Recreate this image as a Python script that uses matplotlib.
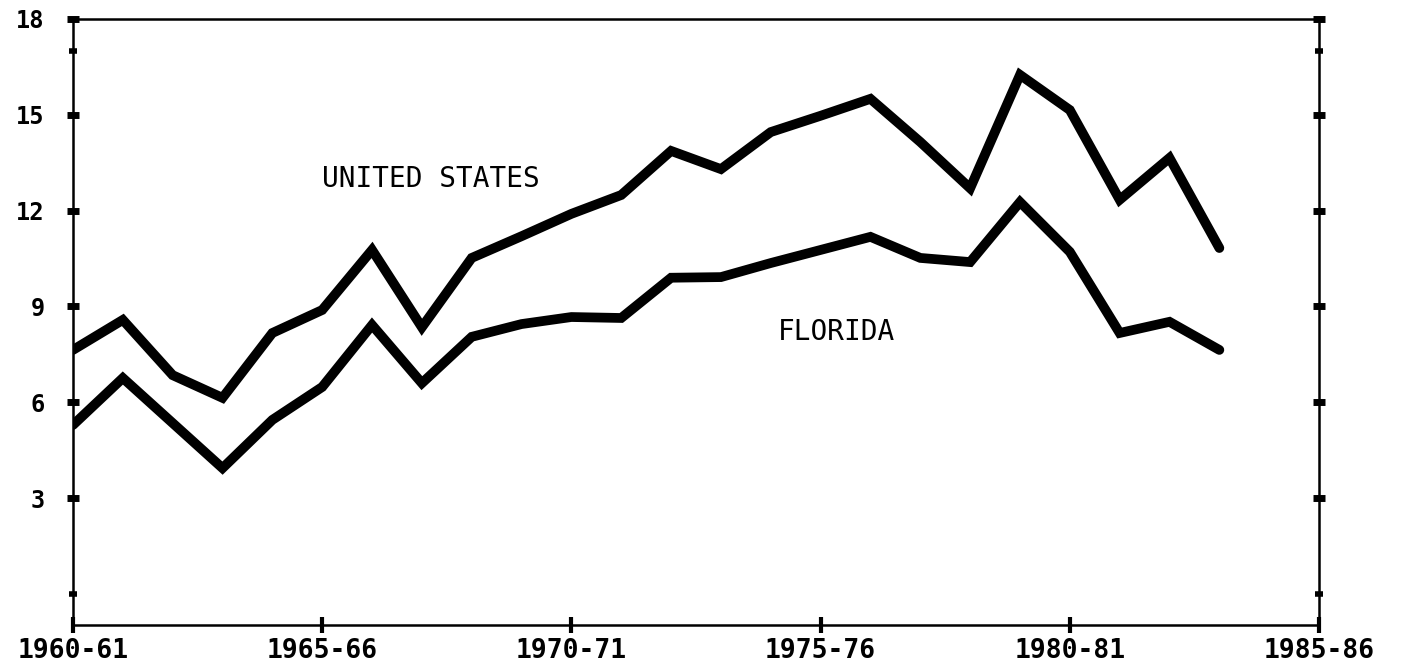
import numpy as np
import matplotlib
matplotlib.use('Agg')
import matplotlib.pyplot as plt

# school years 1960-61 .. 1983-84 (start year)
years = list(range(1960, 1984))
us_values = [7.64, 8.58, 6.85, 6.14, 8.17, 8.89, 10.77, 8.35, 10.52, 11.2,
             11.9, 12.49, 13.87, 13.3, 14.46, 14.97, 15.5, 14.15, 12.7, 16.25,
             15.15, 12.34, 13.65, 10.83]
fl_values = [5.29, 6.76, 5.35, 3.94, 5.45, 6.48, 8.42, 6.6, 8.05, 8.45,
             8.67, 8.64, 9.9, 9.92, 10.36, 10.77, 11.18, 10.52, 10.39, 12.27,
             10.71, 8.17, 8.52, 7.64]

x_ticks = [1960, 1965, 1970, 1975, 1980, 1985]
x_ticklabels = ['1960-61', '1965-66', '1970-71', '1975-76', '1980-81', '1985-86']
y_ticks = [3, 6, 9, 12, 15, 18]

fig = plt.figure(figsize=(14.01, 6.68), dpi=100)
ax = fig.add_axes([0.0521, 0.0644, 0.8894, 0.9072])

ax.plot(years, us_values, color='black', lw=7, solid_joinstyle='miter', solid_capstyle='round')
ax.plot(years, fl_values, color='black', lw=7, solid_joinstyle='miter', solid_capstyle='round')

ax.set_xlim(1960, 1985)
ax.set_ylim(-0.97, 18)

for s in ax.spines.values():
    s.set_linewidth(1.8)

ax.set_xticks(x_ticks)
ax.set_xticklabels(x_ticklabels, fontsize=19, fontweight='bold', family='DejaVu Sans Mono')
ax.set_yticks(y_ticks)
ax.set_yticklabels([str(v) for v in y_ticks], fontsize=17, fontweight='bold', family='DejaVu Sans Mono')

ax.tick_params(axis='y', direction='inout', length=9, width=5, pad=16, right=True)
ax.tick_params(axis='x', direction='inout', length=11, width=3, pad=4)
ax.set_yticks([0, 17], minor=True)
ax.tick_params(axis='y', which='minor', direction='inout', length=6, width=4, right=True)

ax.text(1965, 13.0, 'UNITED STATES', fontsize=20, family='DejaVu Sans Mono', va='center', ha='left')
ax.text(1974.15, 8.2, 'FLORIDA', fontsize=20, family='DejaVu Sans Mono', va='center', ha='left')

plt.savefig('out.png', dpi=100)
